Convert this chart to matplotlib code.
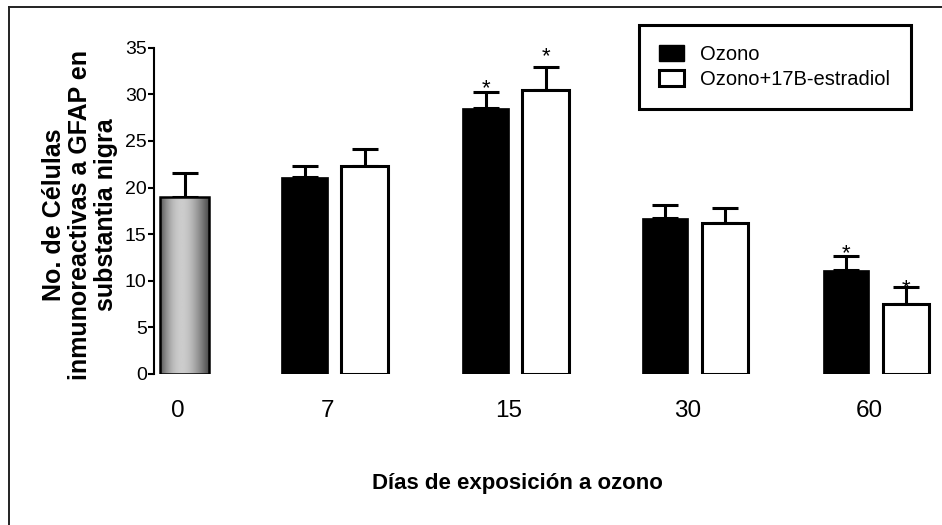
import numpy as np
import matplotlib
matplotlib.use('Agg')
import matplotlib.pyplot as plt
from matplotlib import font_manager
from matplotlib.patches import Rectangle
from matplotlib.lines import Line2D
from matplotlib.transforms import ScaledTranslation

# data: GFAP cells in substantia nigra vs days of ozone exposure
dias = ['0', '7', '15', '30', '60']
control = 19.0
control_err = 2.6
ozono = [21.1, 28.5, 16.75, 11.15]
ozono_err = [1.2, 1.8, 1.35, 1.5]
estradiol = [22.3, 30.5, 16.25, 7.5]
estradiol_err = [1.85, 2.4, 1.6, 1.8]
sig_ozono = [False, True, False, True]
sig_estradiol = [False, True, False, True]

# layout
centros = np.array([0.0, 0.83, 1.83, 2.82, 3.82])
ancho = 0.258
sep = 0.166

names = {f.name for f in font_manager.fontManager.ttflist}
regular = 'Liberation Sans'
narrow = 'Liberation Sans Narrow' if 'Liberation Sans Narrow' in names else regular

W, H = 942, 525
fig = plt.figure(figsize=(W / 100, H / 100), dpi=100)
ax = fig.add_axes([154 / W, (H - 374) / H, (940 - 154) / W, 326.3 / H])

lw = 2.2
ekw = dict(fmt='none', ecolor='black', elinewidth=lw, capsize=9.5, capthick=lw, zorder=2)

# day 0: grey bar with gradient fill
b0 = ax.bar(centros[0], control, ancho + 0.01, facecolor='none', edgecolor='black', linewidth=1.8, zorder=4)[0]
t = np.linspace(0, 1, 200)
perfil = 0.30 + 0.50 * np.sin(np.pi * t ** 0.85)
img = ax.imshow(perfil[None, :], cmap='gray', vmin=0, vmax=1, aspect='auto',
                extent=[centros[0] - (ancho + 0.01) / 2, centros[0] + (ancho + 0.01) / 2, 0, control], zorder=3)
img.set_clip_path(b0)
ax.errorbar(centros[0], control, yerr=[[0], [control_err]], **ekw)

x_oz = centros[1:] - sep
x_es = centros[1:] + sep
ax.bar(x_oz, ozono, ancho, color='black', edgecolor='black', linewidth=0.5, zorder=3, label='Ozono')
ax.bar(x_es, estradiol, ancho, color='white', edgecolor='black', linewidth=lw, zorder=3, label='Ozono+17B-estradiol')
ax.errorbar(x_oz, ozono, yerr=[np.zeros(4), ozono_err], **ekw)
ax.errorbar(x_es, estradiol, yerr=[np.zeros(4), estradiol_err], **ekw)

# significance stars (gap in px between cap and star centre)
gaps_oz = [10, 10, 10, 10]
gaps_es = [10, 18, 10, 6]
star_fs = 16
star_c = 0.58 * star_fs / 0.72
for xs, vals, errs, sig, gaps in [(x_oz, ozono, ozono_err, sig_ozono, gaps_oz),
                                  (x_es, estradiol, estradiol_err, sig_estradiol, gaps_es)]:
    for x, v, e, s, g in zip(xs, vals, errs, sig, gaps):
        if s:
            ax.annotate('*', (x, v + e), xytext=(0, (g - star_c) * 0.72), textcoords='offset points',
                        ha='center', va='baseline', fontsize=star_fs, family=regular, zorder=5)

ax.set_ylim(0, 35)
ax.set_xlim((154 - 184.5) / 181, (940 - 184.5) / 181)
ax.set_yticks(np.arange(0, 36, 5))
ax.set_xticks(centros)
ax.set_xticklabels(dias)
for s in ['top', 'right', 'bottom']:
    ax.spines[s].set_visible(False)
ax.spines['left'].set_linewidth(1.5)
ax.tick_params(axis='y', length=4.3, width=1.5, pad=1, labelsize=14)
ax.tick_params(axis='x', length=0, pad=19, labelsize=17.5)
for lab in ax.get_yticklabels():
    lab.set_family(regular)
for lab in ax.get_xticklabels():
    lab.set_family(narrow)
    lab.set_transform(lab.get_transform() + ScaledTranslation(-7 / 100, 0, fig.dpi_scale_trans))

leg_fs = 14.5
handles = [Rectangle((0, 0), 1, 1, facecolor='black', edgecolor='black'),
           Rectangle((0, 0), 1, 1, facecolor='white', edgecolor='black', linewidth=lw)]
leg = ax.legend(handles, ['Ozono', 'Ozono+17B-estradiol'], loc='upper left',
                bbox_to_anchor=(639 / W, 1 - 25 / H), bbox_transform=fig.transFigure,
                prop={'family': narrow, 'size': leg_fs}, frameon=True, fancybox=False,
                edgecolor='black', framealpha=1, borderpad=1.0, handlelength=1.25,
                handleheight=0.85, handletextpad=0.8, labelspacing=0.3, borderaxespad=0)
leg.get_frame().set_linewidth(lw)

fig.text(80 / W, 1 - 215 / H, 'No. de Células\ninmunoreactivas a GFAP en\nsubstantia nigra',
         rotation=90, ha='center', va='center', multialignment='center',
         fontsize=18, fontweight='bold', family=regular, linespacing=1.08)
fig.text(517 / W, (H - 489) / H, 'Días de exposición a ozono', ha='center', va='baseline',
         fontsize=16, fontweight='bold', family=narrow)

# frame lines along top and left edge
fig.add_artist(Line2D([9 / W, 9 / W], [0, 1 - 7 / H], color='#222222', lw=1.4, transform=fig.transFigure))
fig.add_artist(Line2D([9 / W, 1], [1 - 7 / H, 1 - 7 / H], color='#222222', lw=1.4, transform=fig.transFigure))

fig.savefig('out.png', dpi=100)
